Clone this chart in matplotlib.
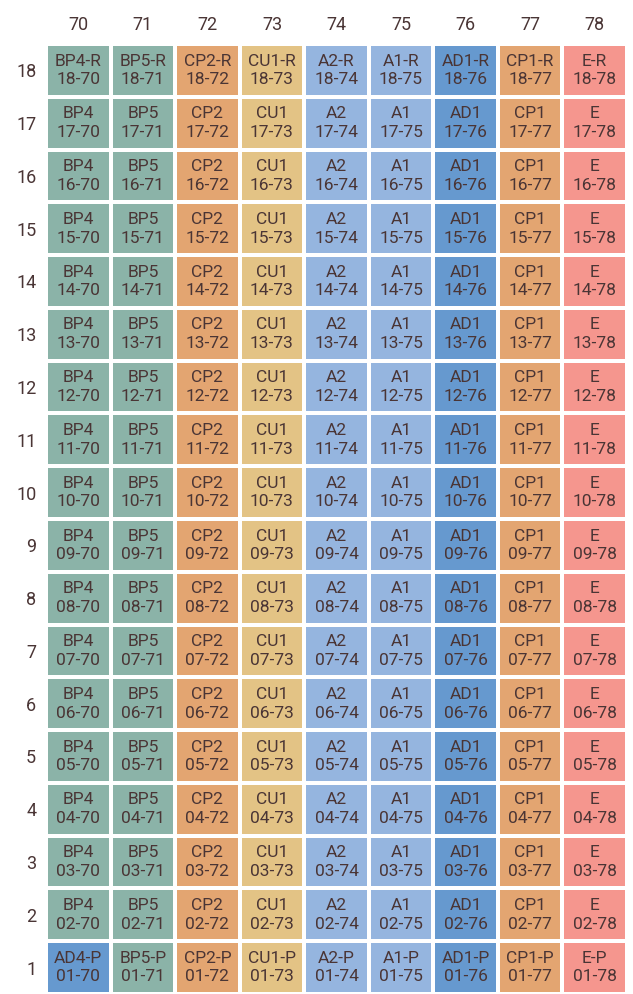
import numpy as np
import matplotlib.pyplot as plt
from matplotlib.colors import ListedColormap

# Grid data
columns = [70, 71, 72, 73, 74, 75, 76, 77, 78]
rows = list(range(18, 0, -1))
codes = ["BP4", "BP5", "CP2", "CU1", "A2", "A1", "AD1", "CP1", "E"]
# special cells: (row, column) -> code
special = {(1, 70): "AD4"}

groups = ["BP", "CP", "CU", "A", "AD", "E"]
group_colors = ["#8bb3a8", "#e3a571", "#e3c385", "#95b5df", "#6699cf", "#f5968e"]
text_color = "#4a3535"


def group_of(code):
    return code.rstrip("0123456789")


def cell_code(row, col):
    base = special.get((row, col), codes[columns.index(col)])
    if row == 18:
        return base + "-R"
    if row == 1:
        return base + "-P"
    return base


# build color index grid
grid = np.zeros((len(rows), len(columns)), dtype=int)
for i, r in enumerate(rows):
    for j, c in enumerate(columns):
        base = special.get((r, c), codes[j])
        grid[i, j] = groups.index(group_of(base))

fig = plt.figure(figsize=(6.33, 9.94), dpi=100)
ax = fig.add_axes([46 / 633, 0.0, 581 / 633, 950 / 994])

cmap = ListedColormap(group_colors)
ax.pcolormesh(np.arange(len(columns) + 1), np.arange(len(rows) + 1), grid,
              cmap=cmap, vmin=-0.5, vmax=len(groups) - 0.5,
              edgecolors="white", linewidth=1.5)
ax.set_xlim(0, len(columns))
ax.set_ylim(len(rows), 0)

for i, r in enumerate(rows):
    for j, c in enumerate(columns):
        ax.text(j + 0.5, i + 0.5, f"{cell_code(r, c)}\n{r:02d}-{c}",
                ha="center", va="center", fontsize=12.5, color=text_color,
                family="Roboto", linespacing=1.3)

ax.xaxis.tick_top()
ax.set_xticks(np.arange(len(columns)) + 0.5)
ax.set_xticklabels([str(c) for c in columns], fontsize=13, color=text_color, family="Roboto")
ax.set_yticks(np.arange(len(rows)) + 0.5)
ax.set_yticklabels([str(r) for r in rows], fontsize=13, color=text_color, family="Roboto")
ax.tick_params(length=0, pad=7)
for s in ax.spines.values():
    s.set_visible(False)

fig.savefig("out.png", dpi=100)
